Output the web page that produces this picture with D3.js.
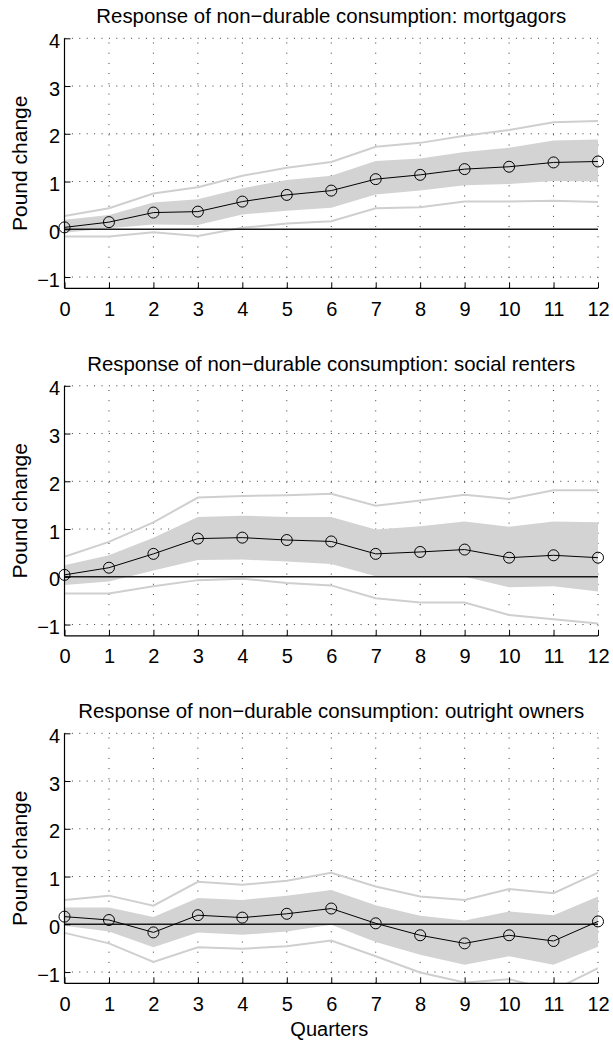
<!DOCTYPE html>
<html>
<head>
<meta charset="utf-8">
<script src="https://cdn.jsdelivr.net/npm/d3@7"></script>
<style>
  html, body { margin: 0; padding: 0; background: #fff; }
  svg { display: block; }
  text { font-family: "Liberation Sans", Arial, Helvetica, sans-serif; fill: #000; }
</style>
</head>
<body>
<svg id="chart" width="613" height="1042"></svg>
<script>
// Horizon (quarters after the shock)
const quarters = [0, 1, 2, 3, 4, 5, 6, 7, 8, 9, 10, 11, 12];
const yTicks = [-1, 0, 1, 2, 3, 4];
const yTickLabels = ["\u22121", "0", "1", "2", "3", "4"];

const titles = [
  "Response of non\u2212durable consumption: mortgagors",
  "Response of non\u2212durable consumption: social renters",
  "Response of non\u2212durable consumption: outright owners"
];

// Mortgagors
const mortMedian = [0.04, 0.15, 0.35, 0.37, 0.58, 0.72, 0.81, 1.05, 1.14, 1.26, 1.31, 1.40, 1.42];
const mortBandLo = [-0.07, 0.02, 0.10, 0.09, 0.31, 0.39, 0.45, 0.73, 0.81, 0.92, 0.95, 1.01, 1.00];
const mortBandHi = [0.20, 0.30, 0.56, 0.63, 0.86, 1.03, 1.12, 1.43, 1.48, 1.62, 1.71, 1.86, 1.88];
const mortOuterLo = [-0.15, -0.15, -0.06, -0.14, 0.03, 0.12, 0.17, 0.44, 0.46, 0.58, 0.58, 0.60, 0.57];
const mortOuterHi = [0.28, 0.44, 0.75, 0.88, 1.12, 1.29, 1.41, 1.73, 1.81, 1.96, 2.08, 2.24, 2.27];

// Social renters
const socMedian = [0.04, 0.19, 0.48, 0.80, 0.82, 0.77, 0.74, 0.48, 0.52, 0.57, 0.40, 0.45, 0.40];
const socBandLo = [-0.17, -0.10, 0.13, 0.35, 0.36, 0.32, 0.27, 0.01, 0.00, 0.00, -0.22, -0.20, -0.31];
const socBandHi = [0.24, 0.45, 0.82, 1.25, 1.28, 1.25, 1.25, 0.99, 1.06, 1.16, 1.05, 1.16, 1.14];
const socOuterLo = [-0.35, -0.35, -0.20, -0.07, -0.04, -0.13, -0.18, -0.45, -0.54, -0.54, -0.80, -0.89, -0.98];
const socOuterHi = [0.42, 0.73, 1.14, 1.66, 1.69, 1.71, 1.74, 1.49, 1.60, 1.72, 1.63, 1.81, 1.81];

// Outright owners
const ownMedian = [0.16, 0.09, -0.17, 0.19, 0.14, 0.22, 0.33, 0.02, -0.23, -0.40, -0.23, -0.35, 0.06];
const ownBandLo = [-0.03, -0.15, -0.48, -0.17, -0.22, -0.15, -0.01, -0.37, -0.64, -0.85, -0.67, -0.85, -0.47];
const ownBandHi = [0.35, 0.35, 0.15, 0.55, 0.51, 0.60, 0.72, 0.40, 0.18, 0.08, 0.27, 0.19, 0.58];
const ownOuterLo = [-0.18, -0.40, -0.79, -0.48, -0.51, -0.46, -0.34, -0.67, -1.01, -1.22, -1.15, -1.38, -0.92];
const ownOuterHi = [0.51, 0.60, 0.39, 0.89, 0.83, 0.91, 1.08, 0.79, 0.58, 0.51, 0.74, 0.65, 1.08];

const panels = [
  { title: titles[0], median: mortMedian, lo: mortBandLo, hi: mortBandHi, outerLo: mortOuterLo, outerHi: mortOuterHi },
  { title: titles[1], median: socMedian, lo: socBandLo, hi: socBandHi, outerLo: socOuterLo, outerHi: socOuterHi },
  { title: titles[2], median: ownMedian, lo: ownBandLo, hi: ownBandHi, outerLo: ownOuterLo, outerHi: ownOuterHi }
];

const svg = d3.select("#chart");
const left = 64.5, right = 598;
const firstTop = 38.3, panelStep = 347.5, plotH = 250;
const yDomain = [-1.236, 4];

const x = d3.scaleLinear().domain([0, 12]).range([left, right]);

panels.forEach((p, i) => {
  const top = firstTop + i * panelStep;
  const bottom = top + plotH;
  const y = d3.scaleLinear().domain(yDomain).range([bottom, top]);
  const g = svg.append("g");

  const clipId = "clip" + i;
  svg.append("defs").append("clipPath").attr("id", clipId)
    .append("rect").attr("x", left).attr("y", top)
    .attr("width", right - left).attr("height", plotH);

  // Dotted grid
  const grid = g.append("g").attr("stroke", "#3a3a3a").attr("stroke-width", 1);
  grid.selectAll("line.h").data(yTicks.filter(v => v !== 0)).join("line")
    .attr("class", "h")
    .attr("x1", left).attr("x2", right)
    .attr("y1", d => y(d)).attr("y2", d => y(d))
    .attr("stroke-dasharray", "1,6.4");
  grid.selectAll("line.v").data(quarters.filter(q => q > 0)).join("line")
    .attr("class", "v")
    .attr("x1", d => x(d)).attr("x2", d => x(d))
    .attr("y1", bottom).attr("y2", top)
    .attr("stroke-dasharray", "1,9.2");

  const plot = g.append("g").attr("clip-path", `url(#${clipId})`);

  // Shaded inner band
  const area = d3.area()
    .x((d, k) => x(quarters[k]))
    .y0((d, k) => y(p.lo[k]))
    .y1((d, k) => y(p.hi[k]));
  plot.append("path").datum(p.median).attr("d", area)
    .attr("fill", "#d3d3d3").attr("stroke", "none");

  // Outer bounds
  const line = arr => d3.line().x((d, k) => x(quarters[k])).y(d => y(d))(arr);
  [p.outerLo, p.outerHi].forEach(arr => {
    plot.append("path").attr("d", line(arr))
      .attr("fill", "none").attr("stroke", "#cfcfcf").attr("stroke-width", 2);
  });

  // Zero line
  g.append("line")
    .attr("x1", x(0)).attr("x2", x(12))
    .attr("y1", y(0)).attr("y2", y(0))
    .attr("stroke", "#1a1a1a").attr("stroke-width", 1.5);

  // Median response with circle markers
  g.append("path").attr("d", line(p.median))
    .attr("fill", "none").attr("stroke", "#000").attr("stroke-width", 1);
  g.selectAll("circle").data(p.median).join("circle")
    .attr("cx", (d, k) => x(quarters[k])).attr("cy", d => y(d))
    .attr("r", 5.5).attr("fill", "none").attr("stroke", "#000").attr("stroke-width", 1);

  // Axes
  const xAxis = d3.axisBottom(x).tickValues(quarters).tickSize(-6).tickFormat(d3.format("d")).tickPadding(9);
  const yAxis = d3.axisLeft(y).tickValues(yTicks).tickSize(-6)
    .tickFormat((d, k) => yTickLabels[k]).tickPadding(10);

  const xa = g.append("g").attr("transform", `translate(0,${bottom})`).call(xAxis);
  const ya = g.append("g").attr("transform", `translate(${left},0)`).call(yAxis);
  [xa, ya].forEach(a => {
    a.select(".domain").attr("stroke", "#000").attr("stroke-width", 1.2);
    a.selectAll(".tick line").attr("stroke", "#000").attr("stroke-width", 1);
    a.selectAll(".tick text").attr("font-size", 20)
      .attr("font-family", "'Liberation Sans', Arial, sans-serif").attr("fill", "#000");
  });
  xa.select(".domain").attr("d", `M${left},0H${right}`);
  ya.select(".domain").attr("d", `M0,${top}V${bottom}`);
  xa.selectAll(".tick text").attr("dy", null).attr("y", 27.5);
  ya.selectAll(".tick text").attr("dy", null).attr("x", -4.5).attr("y", 9);

  // Title
  g.append("text")
    .attr("x", (left + right) / 2).attr("y", top - 15)
    .attr("text-anchor", "middle").attr("font-size", 20.4)
    .text(p.title);

  // Y label
  g.append("text")
    .attr("transform", `translate(26.7,${(top + bottom) / 2}) rotate(-90)`)
    .attr("text-anchor", "middle").attr("font-size", 21)
    .text("Pound change");
});

// X label under the last panel
svg.append("text")
  .attr("x", (left + right) / 2 - 2).attr("y", 1036)
  .attr("text-anchor", "middle").attr("font-size", 20)
  .text("Quarters");
</script>
</body>
</html>
